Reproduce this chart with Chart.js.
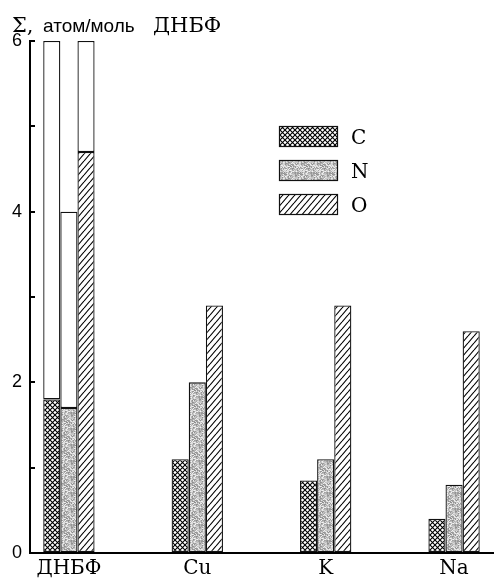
<!DOCTYPE html>
<html>
<head>
<meta charset="utf-8">
<script src="https://cdn.jsdelivr.net/npm/chart.js@4.4.1/dist/chart.umd.min.js"></script>
<style>
    html, body { margin: 0; padding: 0; background: #fff; }
    #contenedor { width: 494px; height: 578px; position: relative; }
</style>
</head>
<body>
<div id="contenedor"><canvas id="grafica"></canvas></div>
<script>
// datos
const categorias = ['ДНБФ', 'Cu', 'K', 'Na'];
const series = ['C', 'N', 'O'];
const valoresC = [1.8, 1.1, 0.85, 0.4];
const valoresN = [1.7, 2.0, 1.1, 0.8];
const valoresO = [4.7, 2.9, 2.9, 2.6];
// parte blanca encima de las barras de ДНБФ (hasta el total)
const totalesDNBF = [6, 4, 6];
const ticksY = [0, 1, 2, 3, 4, 5, 6];
const etiquetasY = ['0', '', '2', '', '4', '', '6'];
const tituloPartes = ['Σ,', 'атом/моль', 'ДНБФ'];

const fuenteSerif = '"DejaVu Serif", "Liberation Serif", serif';
const fuenteSans = '"Liberation Sans", Arial, sans-serif';

// --- patrones de relleno ---
function patronCruzado() {
    const s = 5;
    const c = document.createElement('canvas');
    c.width = s; c.height = s;
    const g = c.getContext('2d');
    g.fillStyle = '#fff';
    g.fillRect(0, 0, s, s);
    g.strokeStyle = '#000';
    g.lineWidth = 1.1;
    for (let k = -1; k <= 1; k++) {
        g.beginPath();
        g.moveTo(k * s, 0);
        g.lineTo(k * s + s, s);
        g.moveTo(k * s, s);
        g.lineTo(k * s + s, 0);
        g.stroke();
    }
    return g.createPattern(c, 'repeat');
}

function patronPunteado() {
    const c = document.createElement('canvas');
    c.width = 16; c.height = 16;
    const g = c.getContext('2d');
    for (let y = 0; y < 16; y++) {
        for (let x = 0; x < 16; x++) {
            const h = Math.sin(x * 12.9898 + y * 78.233) * 43758.5453;
            const f = h - Math.floor(h);
            const gris = Math.round(140 + f * 105);
            g.fillStyle = `rgb(${gris},${gris},${gris})`;
            g.fillRect(x, y, 1, 1);
        }
    }
    return g.createPattern(c, 'repeat');
}

function patronRayado() {
    const w = 6, h = 7;
    const c = document.createElement('canvas');
    c.width = w; c.height = h;
    const g = c.getContext('2d');
    g.fillStyle = '#fff';
    g.fillRect(0, 0, w, h);
    g.strokeStyle = '#000';
    g.lineWidth = 1.1;
    for (let k = -1; k <= 1; k++) {
        g.beginPath();
        g.moveTo(k * w, h);
        g.lineTo(k * w + w, 0);
        g.stroke();
    }
    return g.createPattern(c, 'repeat');
}

const patC = patronCruzado();
const patN = patronPunteado();
const patO = patronRayado();
const rellenos = [patC, patN, patO];

function barras(label, valores, fondo, pila) {
    return {
        label: label,
        data: valores.map((v, i) => ({ x: i, y: v })),
        backgroundColor: fondo,
        borderColor: '#111',
        borderWidth: 1.3,
        borderSkipped: false,
        stack: pila,
        categoryPercentage: 0.4,
        barPercentage: 1
    };
}

const datasets = [];
[valoresC, valoresN, valoresO].forEach((vals, k) => {
    datasets.push(barras(series[k], vals, rellenos[k], 's' + k));
    datasets.push(barras('', [totalesDNBF[k] - vals[0]], '#fff', 's' + k));
});

// título del eje Y con fuentes mezcladas
const tituloEje = {
    id: 'tituloEje',
    afterDraw(chart) {
        const ctx = chart.ctx;
        ctx.save();
        ctx.fillStyle = '#000';
        ctx.textBaseline = 'alphabetic';
        ctx.font = '21px ' + fuenteSerif;
        ctx.fillText(tituloPartes[0], 12, 32);
        ctx.font = '19px ' + fuenteSans;
        ctx.fillText(tituloPartes[1], 43, 32);
        ctx.font = '21px ' + fuenteSerif;
        ctx.fillText(tituloPartes[2], 153, 32);
        ctx.restore();
    }
};

// leyenda dentro del área del gráfico
const leyenda = {
    id: 'leyenda',
    afterDraw(chart) {
        const ctx = chart.ctx;
        ctx.save();
        series.forEach((nombre, i) => {
            const y = 126 + i * 34;
            ctx.fillStyle = rellenos[i];
            ctx.fillRect(279, y, 58, 20);
            ctx.strokeStyle = '#111';
            ctx.lineWidth = 1.2;
            ctx.strokeRect(279.5, y + 0.5, 58, 20);
            ctx.fillStyle = '#000';
            ctx.font = '20px ' + fuenteSerif;
            ctx.textBaseline = 'alphabetic';
            ctx.fillText(nombre, 351, y + 18);
        });
        ctx.restore();
    }
};

const ctx = document.getElementById('grafica').getContext('2d');
new Chart(ctx, {
    type: 'bar',
    data: { datasets: datasets },
    options: {
        responsive: true,
        maintainAspectRatio: false,
        animation: false,
        layout: { padding: { top: 41, right: 0, left: 0, bottom: 0 } },
        plugins: {
            legend: { display: false },
            tooltip: { enabled: false }
        },
        scales: {
            x: {
                type: 'linear',
                offset: false,
                min: -0.303,
                max: 3.311,
                afterBuildTicks: (s) => { s.ticks = categorias.map((_, i) => ({ value: i })); },
                afterFit: (s) => { s.height = 25; },
                ticks: {
                    callback: (v) => categorias[v],
                    color: '#000',
                    font: { family: fuenteSerif, size: 20 },
                    padding: 4,
                    maxRotation: 0,
                    autoSkip: false
                },
                grid: { offset: false, drawOnChartArea: false, drawTicks: false },
                border: { color: '#000', width: 2 }
            },
            y: {
                stacked: true,
                min: 0,
                max: 6,
                afterBuildTicks: (s) => { s.ticks = ticksY.map(v => ({ value: v })); },
                afterFit: (s) => { s.width = 30; },
                ticks: {
                    callback: (v, i) => etiquetasY[i],
                    color: '#000',
                    font: { family: fuenteSans, size: 18 },
                    padding: 13
                },
                grid: { drawOnChartArea: false, tickLength: -5, color: '#000', lineWidth: 2 },
                border: { color: '#000', width: 2 }
            }
        }
    },
    plugins: [tituloEje, leyenda]
});
</script>
</body>
</html>
